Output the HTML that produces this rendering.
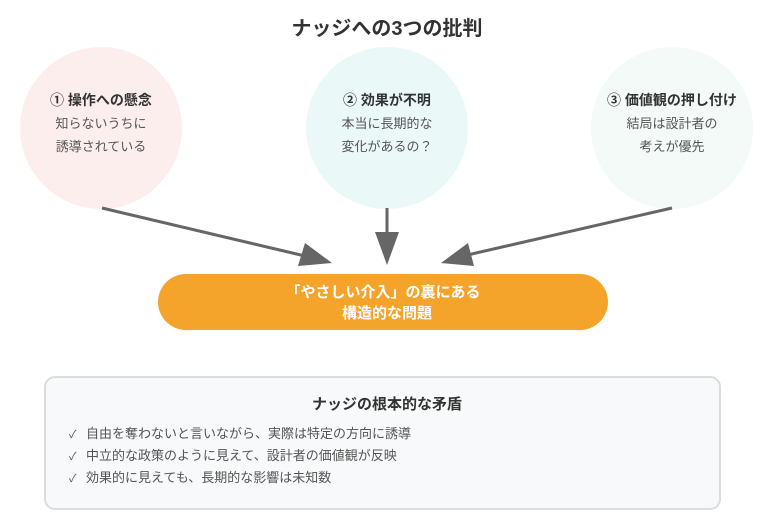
<!DOCTYPE html>
<html><head><meta charset="utf-8"><style>
html,body{margin:0;padding:0;background:#fff;}
svg{display:block;font-family:"Liberation Sans","Noto Sans CJK JP",sans-serif;}
</style></head><body>
<svg width="774" height="524" viewBox="0 0 774 524" xmlns="http://www.w3.org/2000/svg">
<text x="387" y="35" text-anchor="middle" font-size="20" font-weight="bold" fill="#333">ナッジへの3つの批判</text>
<ellipse cx="101" cy="128" rx="81" ry="81" fill="#fdeeee"/>
<ellipse cx="387" cy="128" rx="81" ry="81" fill="#ebf8f8"/>
<ellipse cx="672" cy="128" rx="81" ry="81" fill="#f3faf7"/>
<g text-anchor="middle">
<text x="101" y="105" font-size="14" font-weight="bold" fill="#333">① 操作への懸念</text>
<text x="101" y="128" font-size="13" fill="#555">知らないうちに</text>
<text x="101" y="151" font-size="13" fill="#555">誘導されている</text>
<text x="387" y="105" font-size="14" font-weight="bold" fill="#333">② 効果が不明</text>
<text x="387" y="128" font-size="13" fill="#555">本当に長期的な</text>
<text x="387" y="151" font-size="13" fill="#555">変化があるの？</text>
<text x="672" y="105" font-size="14" font-weight="bold" fill="#333">③ 価値観の押し付け</text>
<text x="672" y="128" font-size="13" fill="#555">結局は設計者の</text>
<text x="672" y="151" font-size="13" fill="#555">考えが優先</text>
</g>
<g stroke="#666" stroke-width="3" fill="none">
<line x1="102" y1="208" x2="305" y2="256"/>
<line x1="387" y1="208" x2="387" y2="236"/>
<line x1="672" y1="208" x2="463" y2="256"/>
</g>
<g fill="#666">
<polygon points="332,263 298,266 305,243"/>
<polygon points="387,265 375,232 399,232"/>
<polygon points="441,263 474,266 468,243"/>
</g>
<rect x="158" y="274" width="450" height="56" rx="28" fill="#f4a42a"/>
<text x="383" y="297" text-anchor="middle" font-size="15" font-weight="bold" fill="#fff">「やさしい介入」の裏にある</text>
<text x="387" y="318" text-anchor="middle" font-size="15" font-weight="bold" fill="#fff">構造的な問題</text>
<rect x="45" y="377" width="675" height="132" rx="10" fill="#f8f9fa" stroke="#dcdcdc" stroke-width="2"/>
<text x="387" y="409" text-anchor="middle" font-size="15" font-weight="bold" fill="#333">ナッジの根本的な矛盾</text>
<g font-size="13" fill="#555">
<text x="69" y="438" font-size="11">✓</text><text x="86" y="438">自由を奪わないと言いながら、実際は特定の方向に誘導</text>
<text x="69" y="460" font-size="11">✓</text><text x="86" y="460">中立的な政策のように見えて、設計者の価値観が反映</text>
<text x="69" y="482" font-size="11">✓</text><text x="86" y="482">効果的に見えても、長期的な影響は未知数</text>
</g>
</svg>
</body></html>
